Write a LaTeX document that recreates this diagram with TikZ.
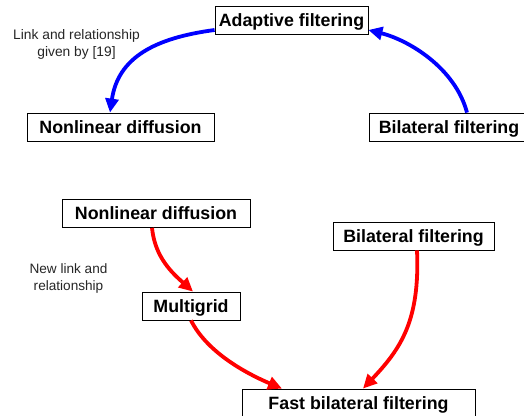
\documentclass[tikz,border=0pt]{standalone}
\usepackage{fontspec}
\setmainfont{Liberation Sans}
\usetikzlibrary{arrows.meta}
\tikzset{
  box/.style={draw=black, line width=0.8pt, fill=white, inner xsep=0pt, inner ysep=0pt,
    minimum height=28pt, text height=14pt, text depth=1.4pt,
    font=\bfseries\fontsize{17.8}{20}\selectfont},
  note/.style={align=center, text=black!85, inner sep=0pt, font=\fontsize{13.8}{17}\selectfont},
  bluearrow/.style={draw=blue, line width=3.8pt, -{Triangle[length=14pt,width=13pt]}},
  redarrow/.style={draw=red, line width=3.8pt, -{Triangle[length=14pt,width=13pt]}}
}
\begin{document}
\begin{tikzpicture}[x=1pt,y=1pt]
\useasboundingbox (0,0) rectangle (524,415);
\clip (0,0) rectangle (524,415);
\fill[white] (0,0) rectangle (524,415);
% top part
\node[box, minimum width=153pt] (adaptive) at (291.5,395) {Adaptive filtering};
\node[box, minimum width=187pt] (nltop) at (120.5,288) {Nonlinear diffusion};
\node[box, minimum width=160pt] (bltop) at (449,288) {Bilateral filtering};
\node[note] (lbl1) at (76.5,370.5) {Link and relationship\\given by [19]};
\draw[bluearrow] ([yshift=-10pt]adaptive.west) .. controls +(-60,-8) and +(8,55) .. ([xshift=-10.5pt]nltop.north);
\draw[bluearrow] ([xshift=18pt]bltop.north) .. controls +(-12,45) and +(40,-10) .. ([yshift=-10pt]adaptive.east);
% bottom part
\node[box, minimum width=188pt] (nlbot) at (156,201.5) {Nonlinear diffusion};
\node[box, minimum width=161pt] (blbot) at (413.5,179) {Bilateral filtering};
\node[box, minimum width=98pt] (multi) at (191,109) {Multigrid};
\node[box, minimum width=233pt] (fast) at (358.5,12) {Fast bilateral filtering};
\node[note, font=\fontsize{13.6}{17}\selectfont] (lbl2) at (68.5,137) {New link and\\relationship};
\draw[redarrow] ([xshift=-4pt]nlbot.south) .. controls +(3,-30) and +(-20,18) .. ([xshift=2pt]multi.north);
\draw[redarrow] (multi.south) .. controls +(15,-30) and +(-40,17) .. ([xshift=-76.5pt]fast.north);
\draw[redarrow] ([xshift=3.5pt]blbot.south) .. controls +(3,-70) and +(38,40) .. ([xshift=4.5pt]fast.north);
\end{tikzpicture}
\end{document}
